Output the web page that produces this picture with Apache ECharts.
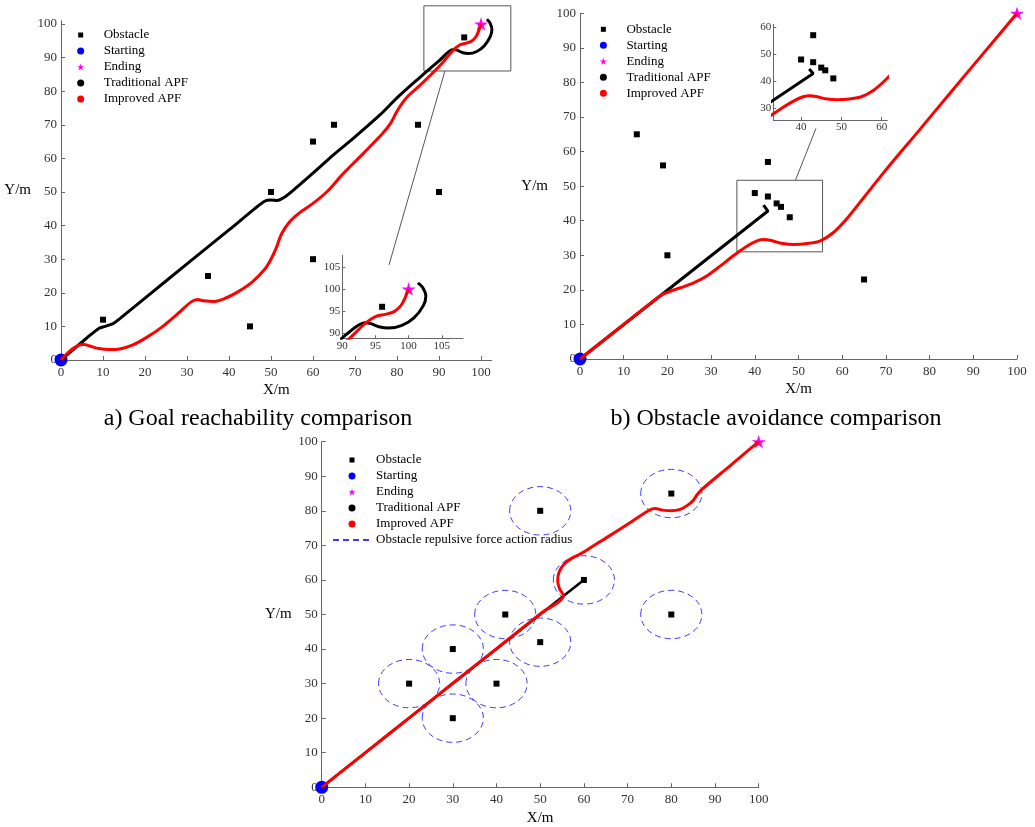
<!DOCTYPE html>
<html>
<head>
<meta charset="utf-8">
<script src="https://cdn.jsdelivr.net/npm/echarts@6/dist/echarts.min.js"></script>
<style>
  html, body { margin: 0; padding: 0; background: #fff; }
  #main { width: 1035px; height: 827px; }
</style>
</head>
<body>
<div id="main"></div>
<script>
// ---- a) goal reachability
const obstaclesA = [[10, 12], [35, 25], [45, 10], [50, 50], [60, 65], [60, 30], [65, 70], [85, 70], [90, 50], [96, 96]]
const traditionalA = [[0, 0], [3, 3.2], [6, 6.4], [9, 9.4], [10.5, 10], [12.5, 10.9], [14, 12.3], [20, 18.4],
    [30, 28.6], [40, 38.7], [46, 44.9], [48.6, 47.3], [50, 47.6], [51.5, 47.5], [53, 48.3], [55, 50.2],
    [60, 55.6], [65, 61.2], [70, 66.4], [76, 73], [80, 78], [85, 83.6], [90, 89], [93.4, 92.4], [94.3, 92.2],
    [95.5, 91.5], [97, 91.2], [99, 91.8], [100.8, 93.5], [102.2, 96.2], [102.6, 98.4], [102.1, 100.4], [101.4, 101.4]]
const improvedA = [[0, 0], [2, 2.6], [4, 4.3], [5.5, 4.6], [7, 4.1], [9, 3.4], [11.5, 3.1], [14, 3.3], [17, 4.4],
    [20.5, 6.8], [24, 9.8], [28, 14], [31, 17.3], [32.5, 18], [34, 17.6], [36.5, 17.4], [39, 18.3], [42, 20.2],
    [45.5, 23.2], [48.5, 27], [50, 30], [51.3, 33.5], [52.5, 37.5], [54.5, 41.2], [57, 44], [60, 46.6],
    [63.5, 50.3], [67, 55.2], [72, 61.5], [76.5, 67.3], [78.5, 70.5], [80, 74], [81.5, 76.9], [83, 79],
    [85, 81.2], [88, 84.8], [91, 88.7], [93.4, 92.2], [95, 93.8], [96.5, 94.3], [97.8, 94.9], [98.8, 96.2],
    [99.4, 97.8], [100, 100]]
const zoomBoxA = [[86.4, 86], [107.1, 86], [107.1, 105.4], [86.4, 105.4], [86.4, 86]]
const connectorA = [[91.4, 86], [78.1, 28.3]]

// ---- b) obstacle avoidance
const obstaclesB = [[13, 65], [19, 56], [20, 30], [43, 57], [40, 48], [43, 47], [45, 45], [46, 44], [48, 41], [65, 23]]
const traditionalB = [[0, 0], [43, 42.8], [42, 44.5]]
const improvedB = [[0, 0], [5, 5], [10, 10], [15, 15], [18.5, 18.4], [20.5, 19.5], [23, 20.6], [26, 22], [29, 24],
    [32, 26.8], [35, 29.8], [38, 32.5], [40.5, 34.2], [42.2, 34.6], [44, 34.2], [46, 33.5], [49, 33.1],
    [52, 33.4], [55, 34.2], [58, 36.6], [61, 40.5], [65, 46.8], [70, 54.7], [77.5, 66], [85, 77.4],
    [92.5, 88.7], [100, 100]]
const zoomBoxB = [[35.9, 31], [55.5, 31], [55.5, 51.7], [35.9, 51.7], [35.9, 31]]
const connectorB = [[49.3, 51.7], [54, 66.7]]

// ---- c) repulsive radius
const obstaclesC = [[20, 30], [30, 40], [30, 20], [40, 30], [42, 50], [50, 42], [50, 80], [60, 60], [80, 85], [80, 50]]
const actionRadius = 7
const traditionalC = [[0, 0], [59.6, 59.6]]
const improvedC = [[0, 0], [10, 10.04], [20, 20.07], [30, 30.1], [40, 40.14], [50, 50.2], [55.3, 55.5],
    [54.4, 57.5], [54, 60], [54.4, 62.5], [55.5, 64.6], [57, 66.1], [59, 67.4], [61, 68.9], [65, 72.1],
    [70, 76.1], [75.1, 80.3], [76.3, 80.7], [78, 80.2], [80, 80], [82, 80.4], [83.6, 81.5], [85, 83],
    [86, 84.8], [87, 86.2], [93.5, 93.1], [100, 100]]

const startPoint = [[0, 0]]
const endPoint = [[100, 100]]

const ticksMain = [0, 10, 20, 30, 40, 50, 60, 70, 80, 90, 100]
const ticksInsetA = [90, 95, 100, 105]
const ticksInsetBX = [40, 50, 60]
const ticksInsetBY = [30, 40, 50, 60]

const legendNames = ['Obstacle', 'Starting', 'Ending', 'Traditional APF', 'Improved APF']
const radiusName = 'Obstacle repulsive force action radius'

const serif = '"Times New Roman", "Liberation Serif", serif'
const starPath = 'path://M50,0L61.17,34.63L97.55,34.55L68.07,55.87L79.39,90.45L50,69L20.61,90.45L31.93,55.87L2.45,34.55L38.83,34.63Z'
const squareIcon = 'path://M0,0M7,7M1,1L6,1L6,6L1,6Z'

function axis(grid, min, max, ticks, small, name, gap, isY) {
    return {
        type: 'value', gridIndex: grid, min: min, max: max,
        name: name, nameLocation: 'middle', nameGap: gap, nameRotate: 0, nameMoveOverlap: false,
        nameTextStyle: { fontFamily: serif, fontSize: 15, color: '#000' },
        axisLine: { onZero: false, lineStyle: { color: '#666', width: 1 } },
        axisTick: { inside: true, length: small ? 3 : 4, customValues: ticks, lineStyle: { color: '#666' } },
        axisLabel: {
            customValues: ticks, fontFamily: serif, fontSize: small ? 11 : 13, color: '#333',
            margin: small ? 2 : (isY ? 4 : 6)
        },
        splitLine: { show: false },
    }
}

function legend(left, top, width, names) {
    return {
        orient: 'vertical', left: left, top: top, padding: 0, itemGap: 0,
        itemWidth: width, itemHeight: 7, selectedMode: false,
        textStyle: { fontFamily: serif, fontSize: 13, color: '#000', lineHeight: 16 },
        data: names.map(n => {
            if (n === 'Obstacle') return { name: n, icon: squareIcon }
            if (n === 'Ending') return { name: n, icon: starPath }
            if (n === radiusName) return { name: n, itemStyle: { color: 'rgba(0,0,0,0)', borderWidth: 0 } }
            return { name: n, icon: 'circle' }
        })
    }
}

function lineSeries(name, data, idx, color, width, smooth, clip) {
    return {
        type: 'line', name: name, data: data, xAxisIndex: idx, yAxisIndex: idx,
        color: color, symbol: 'none', smooth: smooth, clip: clip, silent: true,
        lineStyle: { color: color, width: width }
    }
}

function pointSeries(name, data, idx, color, symbol, size, clip) {
    return {
        type: 'scatter', name: name, data: data, xAxisIndex: idx, yAxisIndex: idx,
        color: color, itemStyle: { color: color, opacity: 1 },
        symbol: symbol, symbolSize: size, symbolKeepAspect: true, clip: clip, silent: true,
    }
}

// zoom frames and their leader lines reach outside the grid, so draw them as custom polylines
function boxSeries(points, idx) {
    return {
        type: 'custom', name: 'box', data: [[0, 0]], xAxisIndex: idx, yAxisIndex: idx,
        clip: false, silent: true,
        renderItem: function (params, api) {
            return {
                type: 'polyline',
                shape: { points: points.map(p => api.coord(p)) },
                style: { fill: 'none', stroke: '#555', lineWidth: 1 }
            }
        }
    }
}

const chart = echarts.init(document.getElementById('main'))
chart.setOption({
    animation: false,
    grid: [
        { left: 61, top: 20.6, width: 430.5, height: 339.4, outerBoundsMode: 'none' },
        { left: 580, top: 13.3, width: 437, height: 345.7, outerBoundsMode: 'none' },
        { left: 321.7, top: 441.7, width: 437, height: 345.6, outerBoundsMode: 'none' },
        { left: 342.3, top: 255.3, width: 120.7, height: 83, outerBoundsMode: 'none' },
        { left: 773.3, top: 24.4, width: 114, height: 95.6, outerBoundsMode: 'none' },
    ],
    xAxis: [
        axis(0, 0, 102.5, ticksMain, false, 'X/m', 23, false),
        axis(1, 0, 100, ticksMain, false, 'X/m', 23, false),
        axis(2, 0, 100, ticksMain, false, 'X/m', 23, false),
        axis(3, 90, 108.2, ticksInsetA, true, '', 0, false),
        axis(4, 33.1, 61.4, ticksInsetBX, true, '', 0, false),
    ],
    yAxis: [
        axis(0, 0, 101, ticksMain, false, 'Y/m', 30, true),
        axis(1, 0, 100, ticksMain, false, 'Y/m', 32, true),
        axis(2, 0, 100, ticksMain, false, 'Y/m', 30, true),
        axis(3, 88.9, 107.6, ticksInsetA, true, '', 0, true),
        axis(4, 25.6, 61, ticksInsetBY, true, '', 0, true),
    ],
    legend: [
        legend(77, 27, 36, legendNames),
        legend(599.7, 21.3, 36, legendNames),
        legend(332, 452, 38, legendNames.concat([radiusName])),
    ],
    graphic: [
        { type: 'text', x: 258, y: 419, style: { text: 'a) Goal reachability comparison', fontFamily: serif, fontSize: 24, fill: '#000', align: 'center', verticalAlign: 'middle' } },
        { type: 'text', x: 776, y: 419, style: { text: 'b) Obstacle avoidance comparison', fontFamily: serif, fontSize: 24, fill: '#000', align: 'center', verticalAlign: 'middle' } },
    ],
    series: [
        // a
        boxSeries(zoomBoxA, 0),
        boxSeries(connectorA, 0),
        lineSeries('Traditional APF', traditionalA, 0, '#000', 3, 0.3, false),
        lineSeries('Improved APF', improvedA, 0, '#ff0000', 3, 0.3, false),
        pointSeries('Obstacle', obstaclesA, 0, '#000', 'rect', 6, false),
        pointSeries('Starting', startPoint, 0, '#0000ff', 'circle', 13, false),
        pointSeries('Ending', endPoint, 0, '#ff00ff', starPath, 14, false),
        // a inset
        lineSeries('Traditional APF', traditionalA, 3, '#000', 3, 0.3, true),
        lineSeries('Improved APF', improvedA, 3, '#ff0000', 3, 0.3, true),
        pointSeries('Obstacle', obstaclesA, 3, '#000', 'rect', 6, true),
        pointSeries('Ending', endPoint, 3, '#ff00ff', starPath, 14, true),
        // b
        boxSeries(zoomBoxB, 1),
        boxSeries(connectorB, 1),
        lineSeries('Traditional APF', traditionalB, 1, '#000', 3, false, false),
        lineSeries('Improved APF', improvedB, 1, '#ff0000', 3, 0.3, false),
        pointSeries('Obstacle', obstaclesB, 1, '#000', 'rect', 6, false),
        pointSeries('Starting', startPoint, 1, '#0000ff', 'circle', 13, false),
        pointSeries('Ending', endPoint, 1, '#ff00ff', starPath, 14, false),
        // b inset
        lineSeries('Traditional APF', traditionalB, 4, '#000', 3, false, true),
        lineSeries('Improved APF', improvedB, 4, '#ff0000', 3, 0.3, true),
        pointSeries('Obstacle', obstaclesB, 4, '#000', 'rect', 6, true),
        // c
        {
            type: 'custom', name: 'rings', data: obstaclesC, xAxisIndex: 2, yAxisIndex: 2,
            clip: false, silent: true,
            renderItem: function (params, api) {
                const c = api.coord([api.value(0), api.value(1)])
                const s = api.size([actionRadius, actionRadius])
                return {
                    type: 'ellipse',
                    shape: { cx: c[0], cy: c[1], rx: s[0], ry: s[1] },
                    style: { fill: 'none', stroke: '#3a3aff', lineWidth: 1, lineDash: [6, 4] }
                }
            }
        },
        {
            type: 'line', name: radiusName, data: [], xAxisIndex: 2, yAxisIndex: 2,
            color: '#3a3aff', symbol: 'none',
            lineStyle: { color: '#3a3aff', width: 1, type: [6, 4] }
        },
        lineSeries('Traditional APF', traditionalC, 2, '#000', 2.5, false, false),
        lineSeries('Improved APF', improvedC, 2, '#ff0000', 3, 0.3, false),
        pointSeries('Obstacle', obstaclesC, 2, '#000', 'rect', 6, false),
        pointSeries('Starting', startPoint, 2, '#0000ff', 'circle', 13, false),
        pointSeries('Ending', endPoint, 2, '#ff00ff', starPath, 14, false),
    ]
})
</script>
</body>
</html>
